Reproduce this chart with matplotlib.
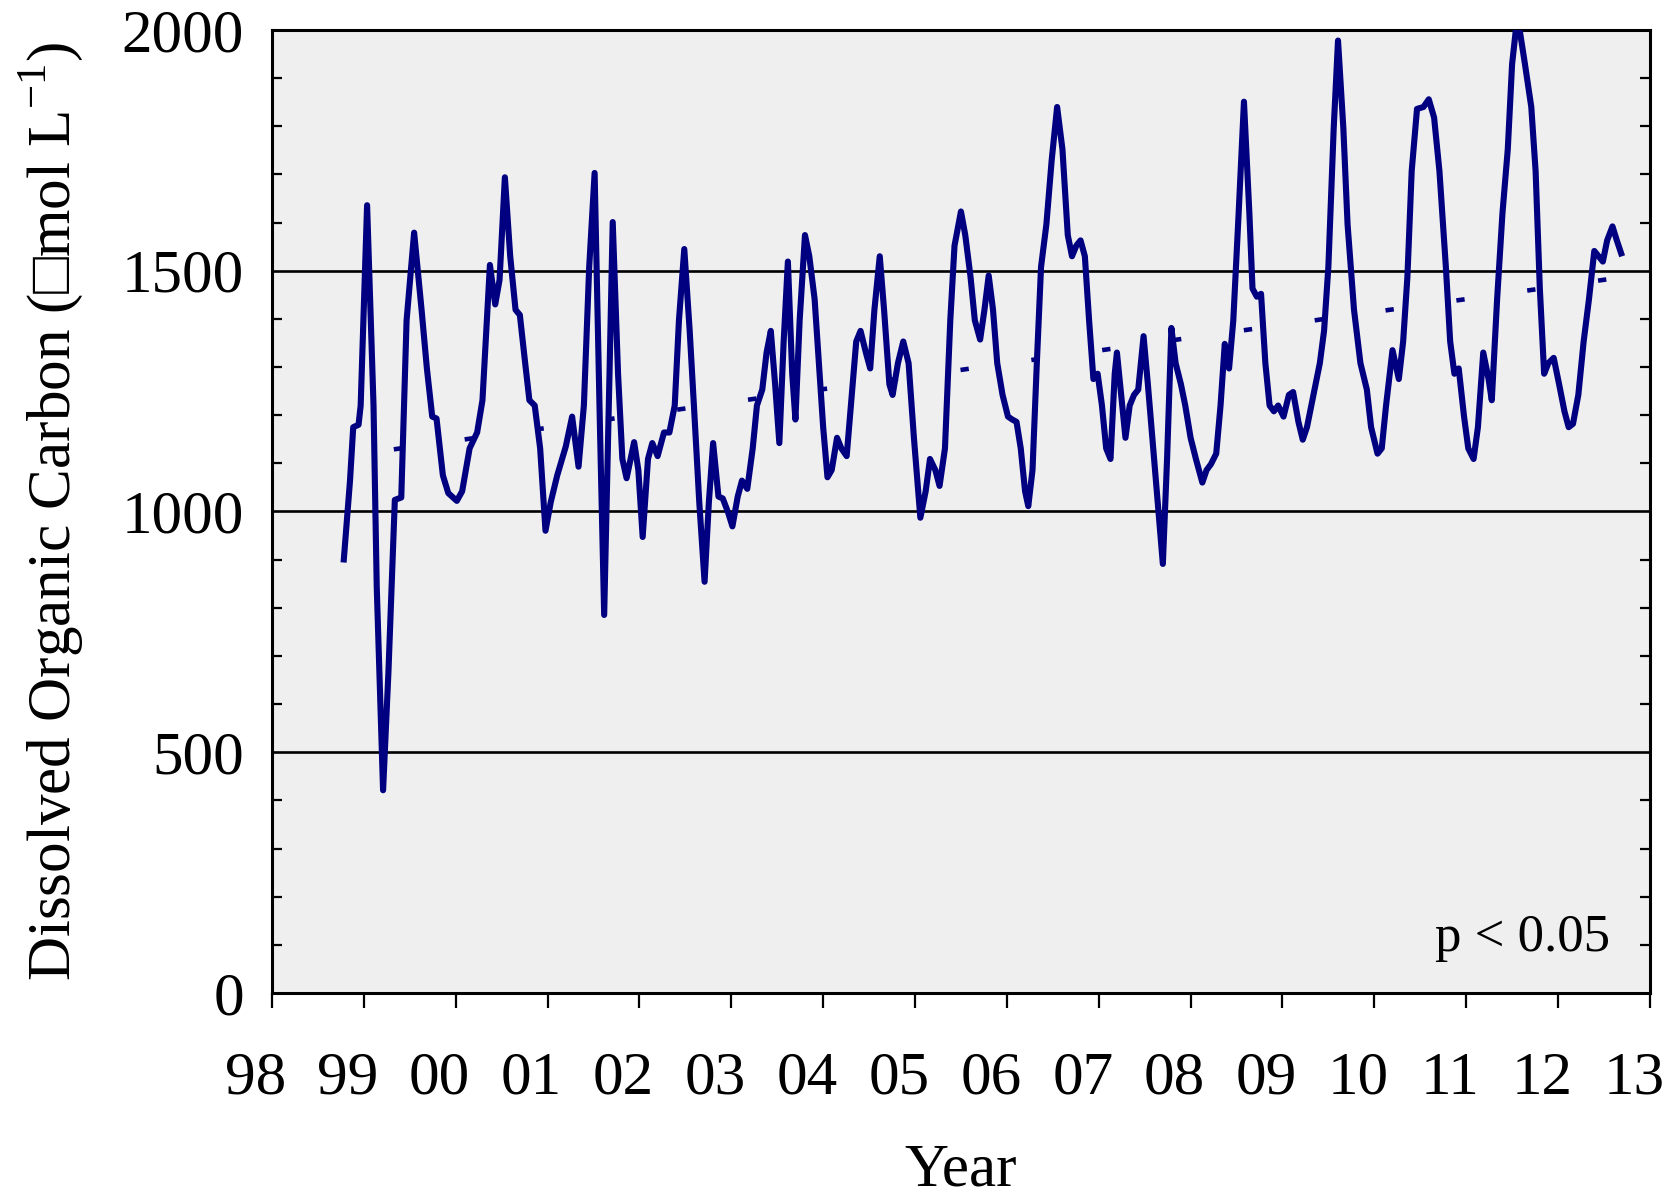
import matplotlib
matplotlib.use("Agg")
import matplotlib.pyplot as plt
from matplotlib.ticker import MultipleLocator
from matplotlib.transforms import ScaledTranslation

# Datos (anio decimal, COD en umol/L)
anios = [
    1998.779, 1998.849, 1998.884, 1998.942, 1998.965, 1999.035, 1999.105, 1999.140, 1999.209, 1999.267,
    1999.337, 1999.407, 1999.465, 1999.547, 1999.628, 1999.686, 1999.744, 1999.791, 1999.860, 1999.919,
    2000.012, 2000.070, 2000.151, 2000.233, 2000.291, 2000.372, 2000.430, 2000.477, 2000.535, 2000.593,
    2000.651, 2000.698, 2000.756, 2000.802, 2000.860, 2000.919, 2000.977, 2001.035, 2001.105, 2001.198,
    2001.267, 2001.337, 2001.395, 2001.453, 2001.512, 2001.570, 2001.616, 2001.674, 2001.709, 2001.767,
    2001.814, 2001.860, 2001.942, 2001.988, 2002.035, 2002.093, 2002.140, 2002.198, 2002.267, 2002.326,
    2002.384, 2002.430, 2002.488, 2002.547, 2002.593, 2002.651, 2002.709, 2002.756, 2002.802, 2002.860,
    2002.907, 2002.965, 2003.012, 2003.070, 2003.116, 2003.174, 2003.233, 2003.279, 2003.337, 2003.384,
    2003.430, 2003.477, 2003.523, 2003.570, 2003.616, 2003.663, 2003.698, 2003.744, 2003.802, 2003.849,
    2003.907, 2003.953, 2004.000, 2004.047, 2004.093, 2004.151, 2004.198, 2004.256, 2004.302, 2004.360,
    2004.407, 2004.465, 2004.512, 2004.558, 2004.616, 2004.663, 2004.721, 2004.756, 2004.814, 2004.872,
    2004.930, 2004.988, 2005.058, 2005.116, 2005.163, 2005.221, 2005.267, 2005.326, 2005.384, 2005.430,
    2005.500, 2005.547, 2005.605, 2005.651, 2005.709, 2005.756, 2005.802, 2005.849, 2005.895, 2005.953,
    2006.012, 2006.058, 2006.105, 2006.151, 2006.198, 2006.233, 2006.279, 2006.326, 2006.372, 2006.430,
    2006.488, 2006.547, 2006.605, 2006.663, 2006.709, 2006.756, 2006.802, 2006.849, 2006.895, 2006.942,
    2006.988, 2007.035, 2007.081, 2007.128, 2007.174, 2007.198, 2007.244, 2007.291, 2007.337, 2007.384,
    2007.430, 2007.488, 2007.535, 2007.593, 2007.651, 2007.698, 2007.744, 2007.791, 2007.837, 2007.895,
    2007.942, 2008.000, 2008.058, 2008.128, 2008.174, 2008.221, 2008.279, 2008.326, 2008.372, 2008.419,
    2008.465, 2008.523, 2008.581, 2008.640, 2008.674, 2008.721, 2008.767, 2008.814, 2008.860, 2008.907,
    2008.953, 2009.012, 2009.070, 2009.116, 2009.174, 2009.221, 2009.267, 2009.337, 2009.407, 2009.453,
    2009.500, 2009.558, 2009.605, 2009.663, 2009.709, 2009.779, 2009.849, 2009.919, 2009.965, 2010.035,
    2010.081, 2010.128, 2010.198, 2010.267, 2010.314, 2010.360, 2010.407, 2010.465, 2010.535, 2010.593,
    2010.651, 2010.709, 2010.779, 2010.826, 2010.872, 2010.919, 2010.977, 2011.023, 2011.081, 2011.128,
    2011.186, 2011.244, 2011.279, 2011.337, 2011.395, 2011.453, 2011.500, 2011.558, 2011.640, 2011.709,
    2011.756, 2011.802, 2011.849, 2011.895, 2011.953, 2012.012, 2012.070, 2012.116, 2012.163, 2012.221,
    2012.279, 2012.337, 2012.395, 2012.442, 2012.488, 2012.535, 2012.593, 2012.640, 2012.698,
]
cod = [
    894, 1064, 1175, 1180, 1220, 1636, 1220, 843, 421, 665,
    1024, 1029, 1397, 1579, 1419, 1297, 1197, 1193, 1075, 1038,
    1022, 1042, 1131, 1164, 1231, 1512, 1430, 1481, 1694, 1530,
    1419, 1408, 1308, 1231, 1220, 1131, 960, 1020, 1075, 1135,
    1197, 1093, 1220, 1508, 1703, 1175, 785, 1286, 1601, 1286,
    1109, 1069, 1144, 1086, 947, 1109, 1142, 1115, 1164, 1164,
    1220, 1397, 1545, 1375, 1220, 1020, 854, 1020, 1142, 1031,
    1027, 998, 969, 1031, 1064, 1047, 1131, 1220, 1253, 1330,
    1375, 1264, 1142, 1353, 1519, 1286, 1191, 1397, 1574, 1530,
    1441, 1308, 1175, 1071, 1086, 1153, 1131, 1115, 1220, 1353,
    1375, 1330, 1297, 1419, 1530, 1419, 1264, 1242, 1308, 1353,
    1308, 1153, 987, 1042, 1109, 1086, 1053, 1131, 1397, 1552,
    1623, 1574, 1486, 1397, 1357, 1419, 1490, 1419, 1308, 1242,
    1197, 1191, 1186, 1131, 1042, 1011, 1086, 1308, 1508, 1596,
    1730, 1840, 1752, 1574, 1530, 1552, 1563, 1530, 1397, 1275,
    1286, 1220, 1131, 1109, 1286, 1330, 1242, 1153, 1220, 1242,
    1253, 1364, 1264, 1131, 998, 891, 1109, 1381, 1308, 1264,
    1220, 1153, 1109, 1060, 1086, 1098, 1120, 1220, 1348, 1297,
    1397, 1619, 1851, 1619, 1463, 1446, 1452, 1308, 1220, 1208,
    1220, 1197, 1242, 1248, 1186, 1149, 1175, 1242, 1308, 1375,
    1508, 1796, 1978, 1796, 1596, 1419, 1308, 1253, 1175, 1120,
    1131, 1220, 1335, 1275, 1353, 1486, 1707, 1836, 1840, 1856,
    1818, 1707, 1508, 1353, 1286, 1297, 1197, 1131, 1109, 1175,
    1330, 1275, 1231, 1441, 1619, 1752, 1929, 2030, 1929, 1840,
    1707, 1463, 1286, 1308, 1319, 1264, 1208, 1175, 1182, 1242,
    1353, 1441, 1541, 1530, 1519, 1563, 1592, 1563, 1530,
]

# Recta de tendencia (extremos)
tendencia_x = [1999.326, 2012.570]
tendencia_y = [1129, 1483]

anios_ticks = list(range(1998, 2014))
etiquetas_ticks = ['98', '99', '00', '01', '02', '03', '04', '05', '06', '07',
                   '08', '09', '10', '11', '12', '13']

plt.rcParams['font.family'] = ['Liberation Serif', 'DejaVu Serif', 'DejaVu Sans']
plt.rcParams['mathtext.fontset'] = 'custom'
plt.rcParams['mathtext.rm'] = 'Liberation Serif'
plt.rcParams['lines.scale_dashes'] = False

fig = plt.figure(figsize=(16.75, 12.03), dpi=100)
ax = fig.add_axes([0.1624, 0.1746, 0.8226, 0.8005])
ax.set_facecolor('#efefef')

for v in [500, 1000, 1500]:
    ax.axhline(v, color='black', lw=1.9, zorder=1)

ax.plot(anios, cod, color='#000080', lw=4.4, solid_joinstyle='round',
        solid_capstyle='butt', zorder=3)
ax.plot(tendencia_x, tendencia_y, color='#000080', lw=3.3,
        linestyle=(0, (6, 45.5)), dash_capstyle='butt', zorder=2)

ax.set_xlim(1998, 2013)
ax.set_ylim(0, 2000)
ax.set_xticks(anios_ticks)
ax.set_xticklabels(etiquetas_ticks)
ax.set_yticks([0, 500, 1000, 1500, 2000])
ax.yaxis.set_minor_locator(MultipleLocator(100))

ax.tick_params(axis='x', direction='out', length=11, width=1.6, labelsize=44, pad=31)
ax.tick_params(axis='y', which='major', length=0, labelsize=44, pad=20)
ax.tick_params(axis='y', which='minor', direction='in', length=7.5, width=1.6,
               left=True, right=True)

# las etiquetas del eje x estan algo corridas a la izquierda en el original
desplaza = ScaledTranslation(-0.16, 0, fig.dpi_scale_trans)
for lab in ax.get_xticklabels():
    lab.set_transform(lab.get_transform() + desplaza)

for s in ax.spines.values():
    s.set_linewidth(2.2)

ax.set_xlabel('Year', fontsize=44, labelpad=26)
ax.set_ylabel('Dissolved Organic Carbon (\u25a1mol L$^{\\mathrm{-1}}$)', fontsize=44)
ax.yaxis.label.set_va('center')
ax.yaxis.set_label_coords(-0.160, 0.5)

ax.text(0.971, 0.0436, 'p < 0.05', transform=ax.transAxes, ha='right',
        va='baseline', fontsize=38)

plt.savefig('out.png', dpi=100)
